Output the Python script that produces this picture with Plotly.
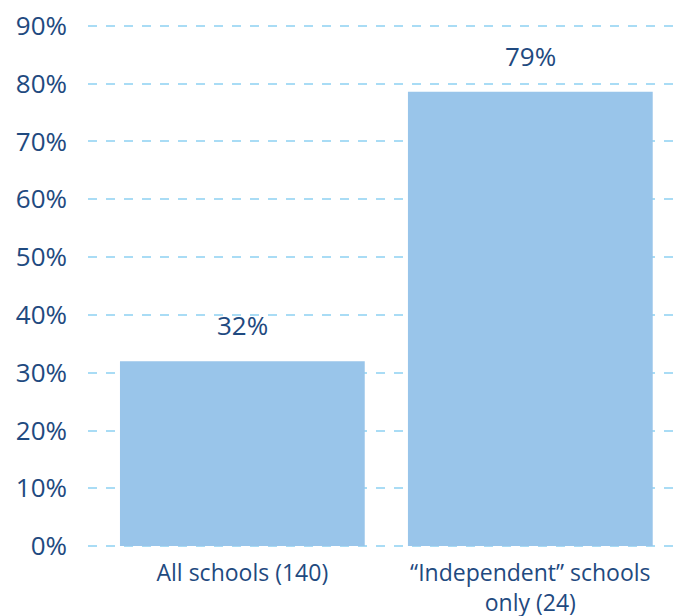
import plotly.graph_objects as go

categories = ["All schools (140)", "“Independent” schools<br>only (24)"]
values = [0.32, 0.786]
labels = ["32%", "79%"]
y_ticks = [0, 0.1, 0.2, 0.3, 0.4, 0.5, 0.6, 0.7, 0.8, 0.9]

text_color = "#1f4a80"
bar_color = "#99c5ea"
grid_color = "#a9dcf5"
font_family = "'Open Sans', Lato, sans-serif"

fig = go.Figure(go.Bar(
    x=[0, 1],
    y=values,
    width=0.85,
    marker=dict(color=bar_color, line=dict(width=0)),
    hoverinfo="skip",
))

for i, (v, t) in enumerate(zip(values, labels)):
    fig.add_annotation(
        x=i, y=v, text=t, showarrow=False,
        yanchor="bottom", yshift=16,
        font=dict(size=26, color=text_color, family=font_family),
    )

# page body has an 8px default margin, so the figure is offset by (8, 8)
fig.update_layout(
    width=681, height=608,
    margin=dict(l=80, r=0, t=15, b=67),
    plot_bgcolor="white", paper_bgcolor="white",
    showlegend=False,
    font=dict(family=font_family, color=text_color),
    xaxis=dict(
        range=[-0.536, 1.551],
        tickmode="array", tickvals=[0, 1], ticktext=categories,
        showgrid=False, zeroline=False, showline=False,
        tickfont=dict(size=23, color=text_color),
        ticks="", ticklabelstandoff=8,
        ticklabeloverflow="allow",
        automargin=False,
    ),
    yaxis=dict(
        range=[-0.005, 0.905],
        tickmode="array", tickvals=y_ticks,
        tickformat=".0%",
        showgrid=True, gridcolor=grid_color, gridwidth=2, griddash="dash",
        zeroline=False, showline=False,
        tickfont=dict(size=26, color=text_color),
        ticklabelstandoff=20,
        ticklabeloverflow="allow",
        automargin=False,
    ),
)

fig.write_html("out.html")
